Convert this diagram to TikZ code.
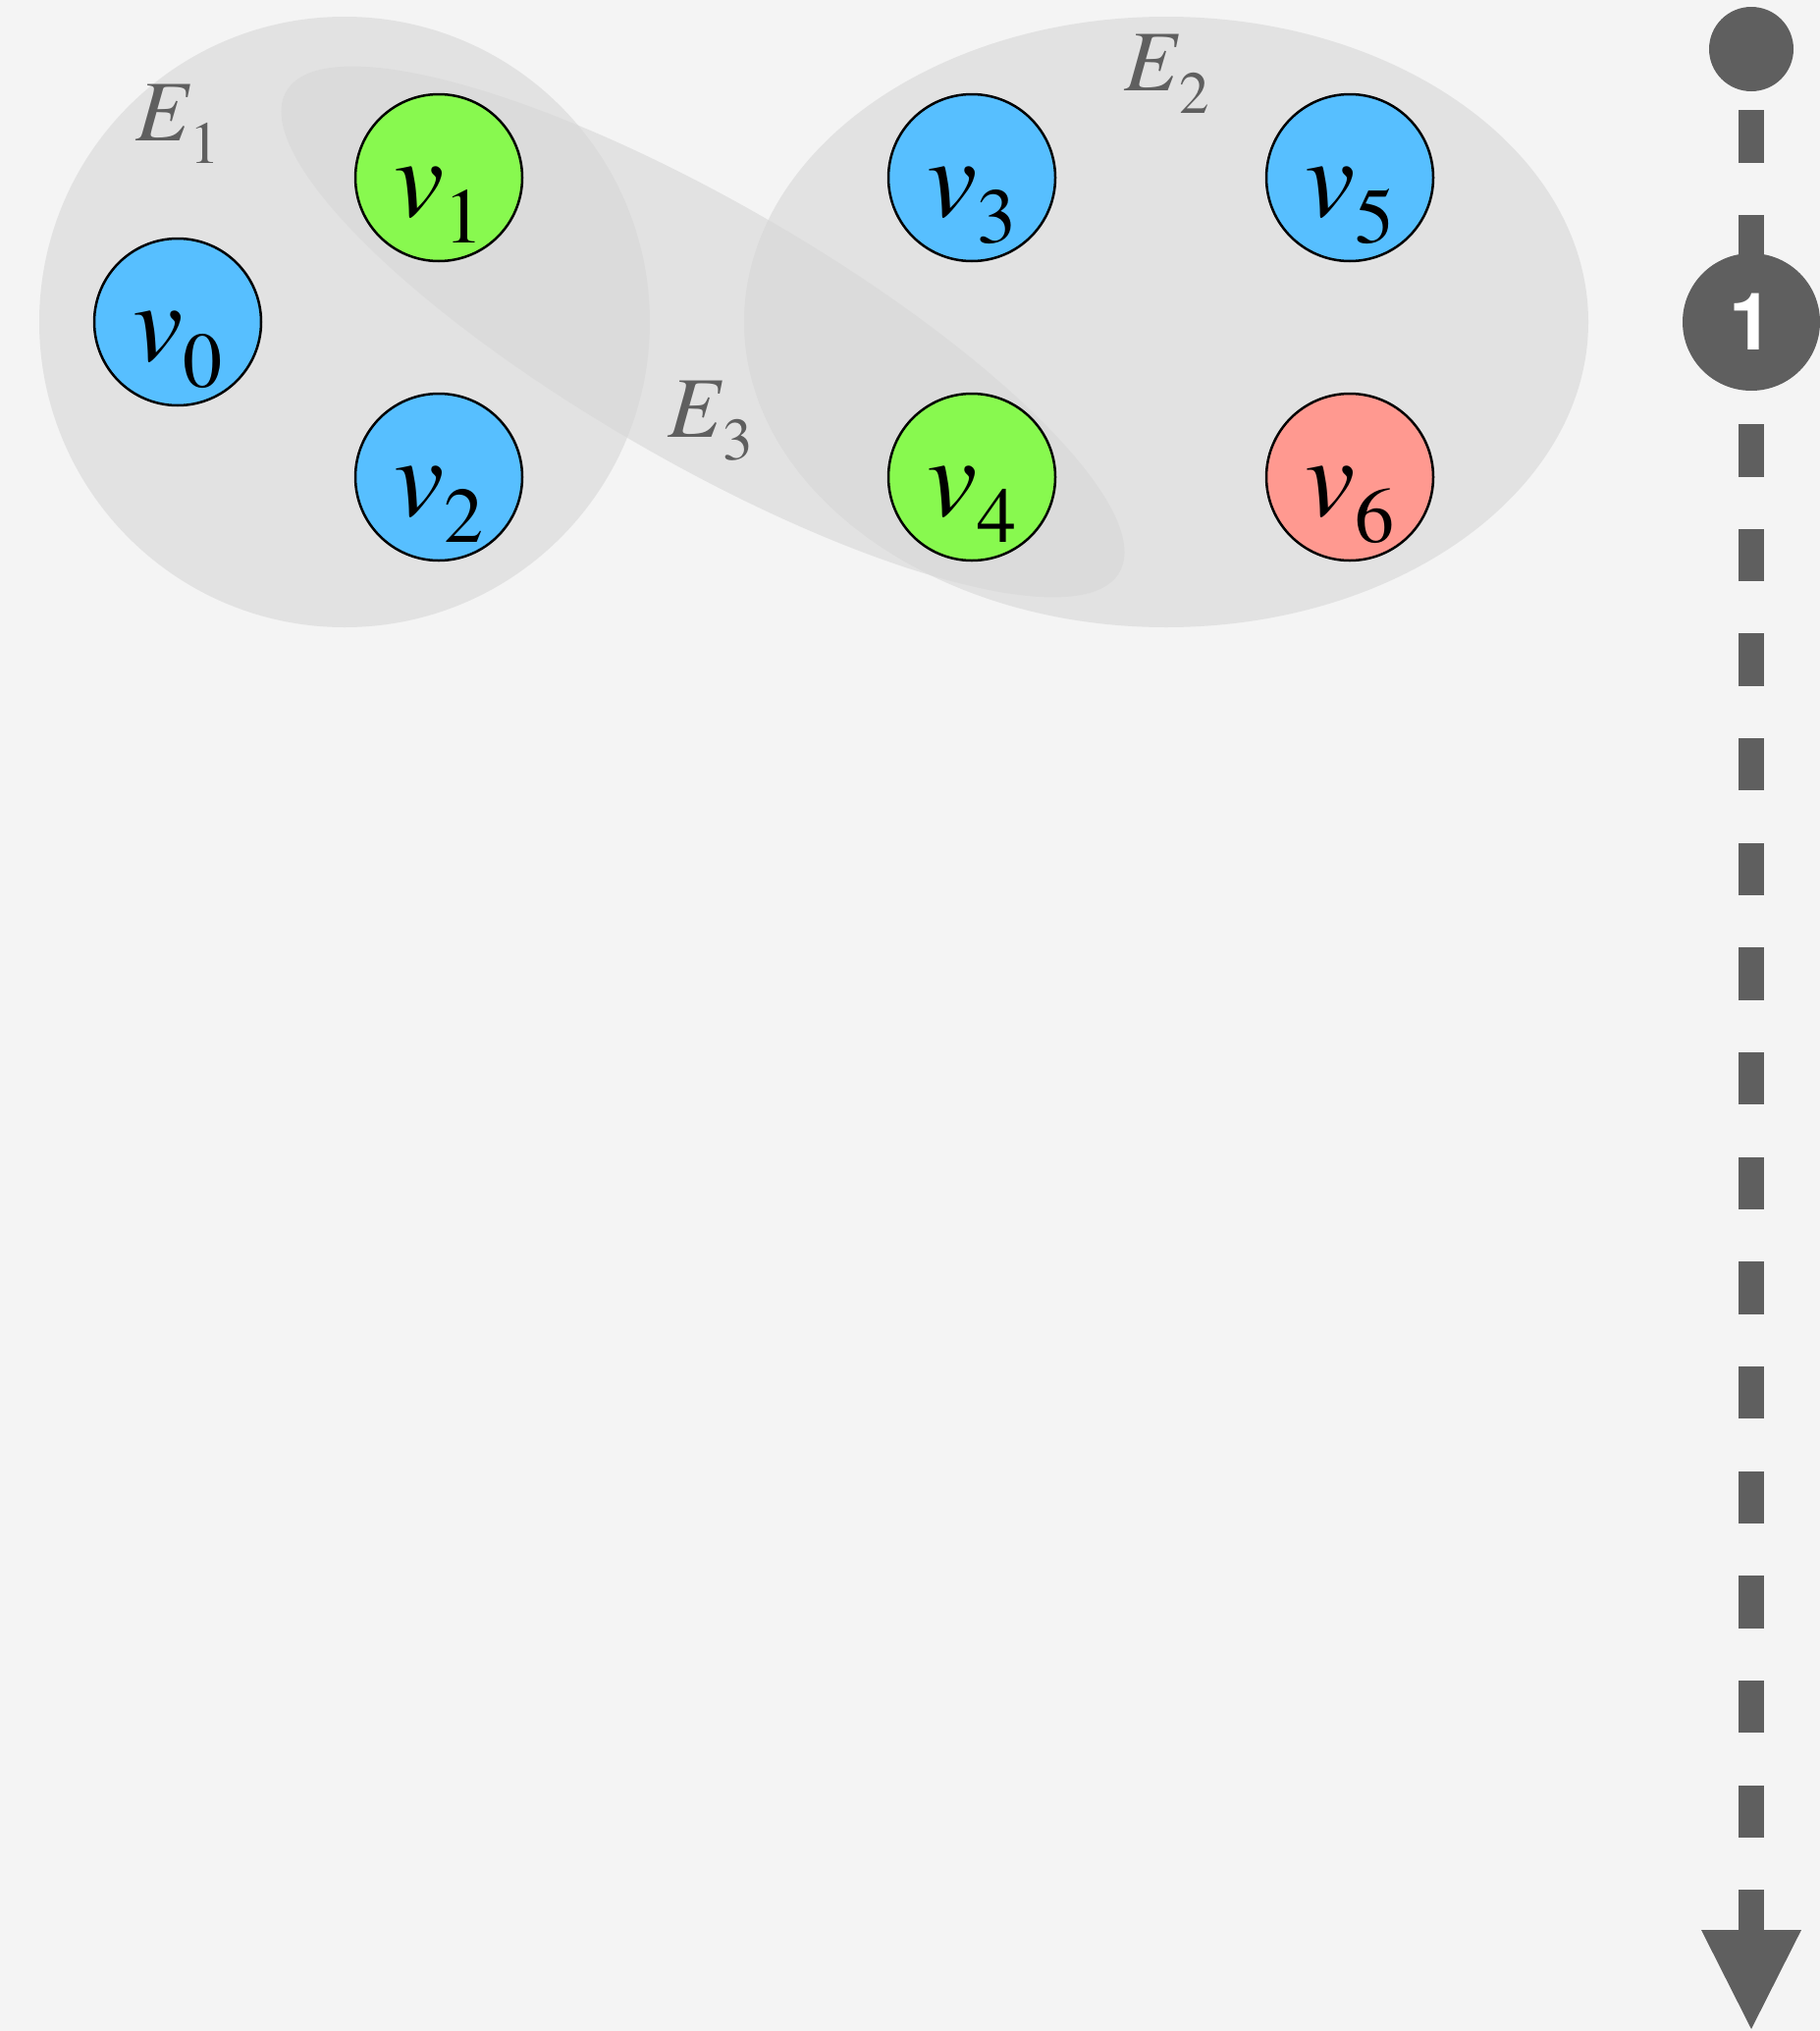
\documentclass[tikz,border=0pt]{standalone}
\usepackage{fontspec}
\setmainfont{texgyretermes-regular.otf}[ItalicFont=texgyretermes-italic.otf, BoldFont=texgyretermes-bold.otf]
\newfontfamily\numfont{TeX Gyre Heros}
\usetikzlibrary{arrows.meta}
\definecolor{bgc}{HTML}{F4F4F4}
\definecolor{hyper}{HTML}{D7D7D7}
\definecolor{vblue}{HTML}{57BFFF}
\definecolor{vgreen}{HTML}{88F94F}
\definecolor{vred}{HTML}{FF9990}
\definecolor{tlgray}{HTML}{5F5F5F}
\newcommand\vlab[1]{\fontsize{115pt}{115pt}\selectfont\textit{v}\raisebox{-27pt}{\fontsize{80pt}{80pt}\selectfont #1}}
\newcommand\elab[1]{\fontsize{88pt}{88pt}\selectfont\textit{E}\raisebox{-23pt}{\fontsize{61pt}{61pt}\selectfont #1}}
\begin{document}
\begin{tikzpicture}[x=1pt,y=-1pt,
  hyperedge/.style={fill=hyper, fill opacity=0.6},
  vertex/.style={circle, draw=black, line width=2.5pt, minimum size=170pt, inner sep=0pt, text height=90pt, text depth=12pt},
  elabel/.style={text=tlgray, inner sep=0pt, anchor=base west},
  dotnode/.style={circle, fill=tlgray, minimum size=86pt, inner sep=0pt},
  stepnode/.style={circle, fill=tlgray, minimum size=140pt, inner sep=0pt, text=white, font=\fontsize{81pt}{81pt}\selectfont\numfont\bfseries},
  timeline/.style={draw=tlgray, line width=26.7pt, dash pattern=on 53.33pt off 53.33pt, dash phase=87.67pt, -{Triangle[length=101pt,width=102pt,line width=0pt]}}]
\useasboundingbox (0,0) rectangle (1854,2069);
\fill[bgc] (0,0) rectangle (1854,2069);
% hyperedges
\fill[hyperedge] (351,328) circle[radius=311pt];
\fill[hyperedge] (1188,328) ellipse[x radius=430pt, y radius=311pt];
\fill[hyperedge, shift={(716,338)}, rotate=-30] (0,0) ellipse[x radius=490pt, y radius=132pt];
% hyperedge labels
\node[elabel] (e1) at (138,143) {\elab{1}};
\node[elabel] (e2) at (1145,92) {\elab{2}};
\node[elabel] (e3) at (680,445) {\elab{3}};
% vertices
\node[vertex, fill=vblue] (v0) at (181,328) {\vlab{0}};
\node[vertex, fill=vgreen] (v1) at (447,181) {\vlab{1}};
\node[vertex, fill=vblue] (v2) at (447,486) {\vlab{2}};
\node[vertex, fill=vblue] (v3) at (990,181) {\vlab{3}};
\node[vertex, fill=vgreen] (v4) at (990,486) {\vlab{4}};
\node[vertex, fill=vblue] (v5) at (1375,181) {\vlab{5}};
\node[vertex, fill=vred] (v6) at (1375,486) {\vlab{6}};
% timeline
\node[dotnode] (start) at (1784,50) {};
\coordinate (tend) at (1784,2067);
\draw[timeline] (start.south) -- (tend);
\node[stepnode] (s1) at (1784,328) {1};
\end{tikzpicture}
\end{document}
